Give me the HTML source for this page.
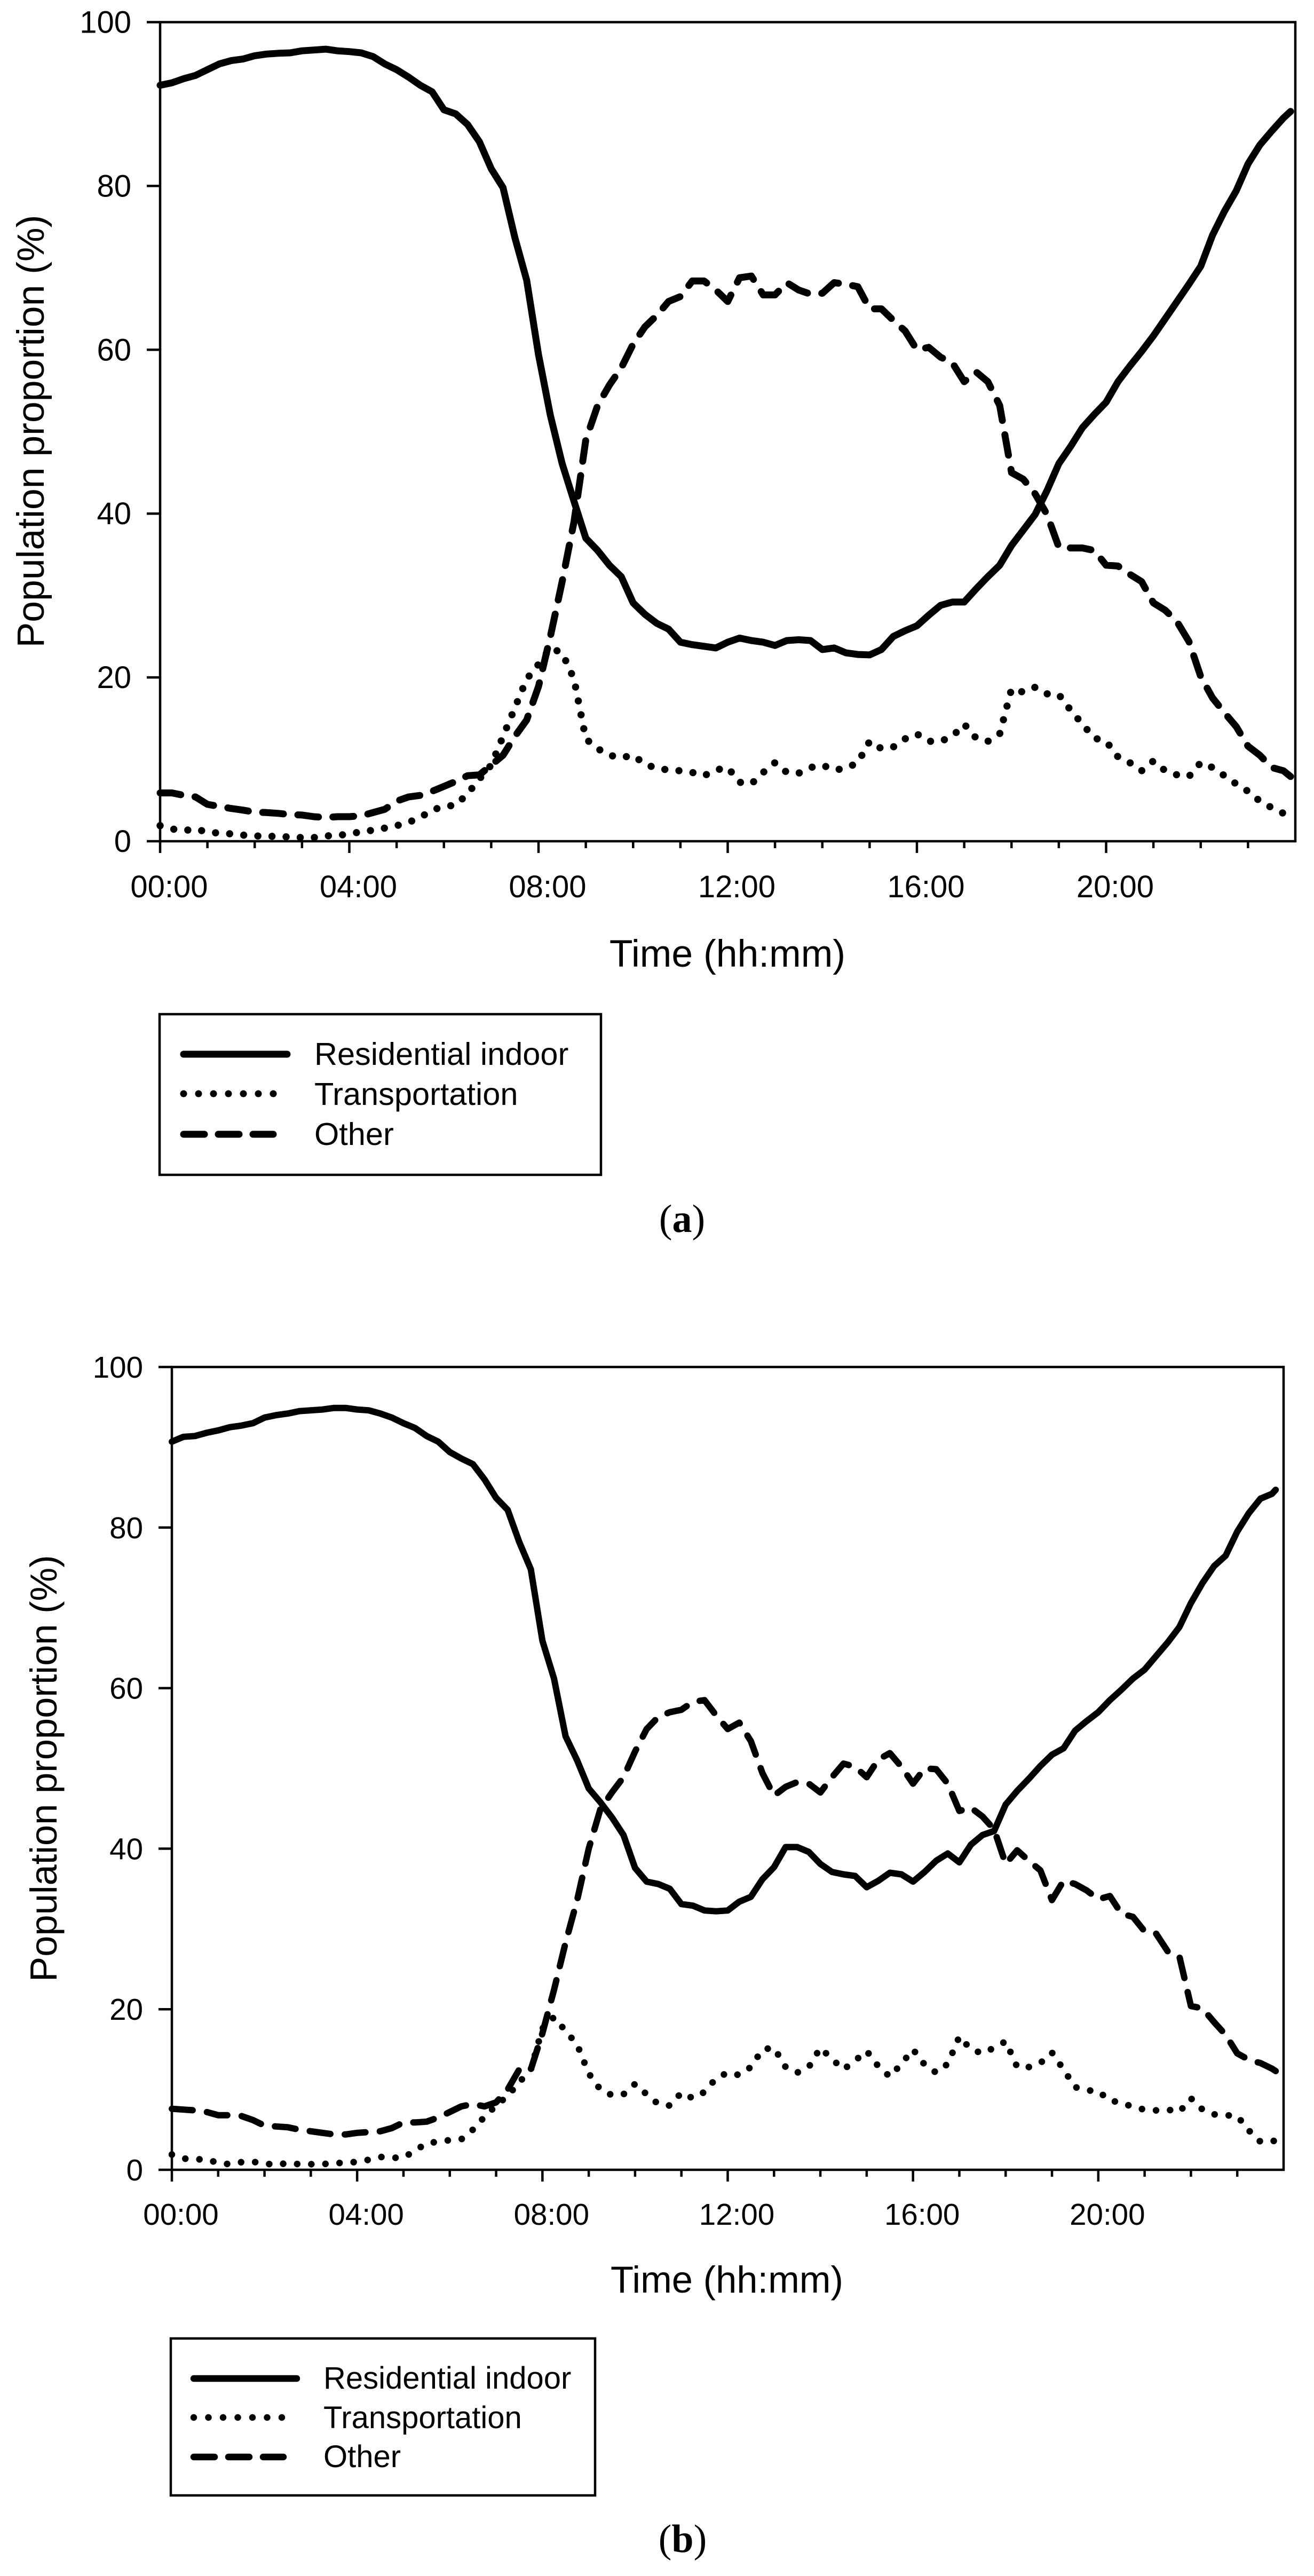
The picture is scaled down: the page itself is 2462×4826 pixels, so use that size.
<!DOCTYPE html>
<html lang="en">
<head>
<meta charset="utf-8">
<title>Population proportion by time of day</title>
<style>
html,body{margin:0;padding:0;background:#fff;}
svg{display:block;}
text{font-family:"Liberation Sans",Arial,sans-serif;fill:#000;}
.cap{font-family:"Liberation Serif",serif;}
</style>
</head>
<body>
<svg id="fig" xmlns="http://www.w3.org/2000/svg" width="2462" height="4826" viewBox="0 0 2462 4826">
<rect x="0" y="0" width="2462" height="4826" fill="#fff"/>

<g id="panel-a"></g>
<g id="panel-b"></g>

<g>
  <rect x="299" y="1900" width="827" height="301" fill="none" stroke="#000" stroke-width="4.5"/>
  <g>
    <line x1="344" y1="1975" x2="538" y2="1975" stroke="#000" stroke-width="13" stroke-linecap="round"/>
    <text x="589" y="1995" font-size="59.5">Residential indoor</text>
  </g>
  <g>
    <line x1="344" y1="2049" x2="540" y2="2049" stroke="#000" stroke-width="13" stroke-linecap="round" stroke-dasharray="0 28"/>
    <text x="589" y="2070" font-size="59.5">Transportation</text>
  </g>
  <g>
    <line x1="344" y1="2125" x2="512" y2="2125" stroke="#000" stroke-width="13" stroke-linecap="round" stroke-dasharray="39 26"/>
    <text x="589" y="2145" font-size="59.5">Other</text>
  </g>
</g>
<text class="cap" x="1278" y="2308" font-size="74" text-anchor="middle">(<tspan font-weight="bold">a</tspan>)</text>

<g>
  <rect x="320" y="4381" width="795" height="294" fill="none" stroke="#000" stroke-width="4.5"/>
  <g>
    <line x1="363" y1="4456" x2="556" y2="4456" stroke="#000" stroke-width="12.5" stroke-linecap="round"/>
    <text x="606" y="4475" font-size="58">Residential indoor</text>
  </g>
  <g>
    <line x1="363" y1="4529" x2="555" y2="4529" stroke="#000" stroke-width="12.5" stroke-linecap="round" stroke-dasharray="0 27.5"/>
    <text x="606" y="4549" font-size="58">Transportation</text>
  </g>
  <g>
    <line x1="363" y1="4603" x2="531" y2="4603" stroke="#000" stroke-width="12.5" stroke-linecap="round" stroke-dasharray="39 26"/>
    <text x="606" y="4622" font-size="58">Other</text>
  </g>
</g>
<text class="cap" x="1279" y="4781" font-size="74" text-anchor="middle">(<tspan font-weight="bold">b</tspan>)</text>
</svg>

<script>
const hoursGrid = [
0,0.25,0.5,0.75,1,1.25,1.5,1.75,2,2.25,2.5,2.75,3,3.25,3.5,3.75,
4,4.25,4.5,4.75,5,5.25,5.5,5.75,6,6.25,6.5,6.75,7,7.25,7.5,7.75,
8,8.25,8.5,8.75,9,9.25,9.5,9.75,10,10.25,10.5,10.75,11,11.25,11.5,11.75,
12,12.25,12.5,12.75,13,13.25,13.5,13.75,14,14.25,14.5,14.75,15,15.25,15.5,15.75,
16,16.25,16.5,16.75,17,17.25,17.5,17.75,18,18.25,18.5,18.75,19,19.25,19.5,19.75,
20,20.25,20.5,20.75,21,21.25,21.5,21.75,22,22.25,22.5,22.75,23,23.25,23.5,23.75];
const endHourA = 23.9;
const endHourB = 23.83;
const yTickValues = [0,20,40,60,80,100];
const xMajorHours = [0,4,8,12,16,20];
const xMajorLabels = ["00:00","04:00","08:00","12:00","16:00","20:00"];
const xMinorHours = [1,2,3,5,6,7,9,10,11,13,14,15,17,18,19,21,22,23];

const residentialA = [
92.3,92.6,93.1,93.5, 94.2,94.9,95.3,95.5, 95.9,96.1,96.2,96.25, 96.5,96.6,96.7,96.5,
96.4,96.25,95.8,94.9, 94.2,93.3,92.3,91.5, 89.3,88.8,87.5,85.4, 82.1,79.8,73.7,68.5,
59.4,52,46.1,41.5, 37,35.5,33.7,32.3, 29.1,27.7,26.6,25.9, 24.3,24,23.8,23.6,
24.3,24.8,24.5,24.3, 23.9,24.5,24.6,24.5, 23.4,23.6,23,22.8, 22.75,23.4,25,25.7,
26.3,27.6,28.8,29.2, 29.2,30.8,32.3,33.7, 36.1,38,39.9,42.8, 46.1,48.2,50.5,52.1,
53.6,56.1,58,59.8, 61.7,63.8,65.9,68, 70.2,74,76.9,79.4, 82.7,85,86.7,88.3, 89.1];
const transportationA = [
1.9,1.5,1.3,1.5, 1.1,1,0.9,0.75, 0.65,0.6,0.6,0.5, 0.45,0.45,0.65,0.7,
0.9,1.15,1.35,1.6, 1.9,2.3,2.9,3.8, 4.25,4.4,5.8,7.6, 9.3,12.8,16.3,19.8,
21.6,23.6,23,19.8, 12.5,11.3,10.5,10.2, 10.5,9.4,8.9,8.7, 8.6,8.4,8,8.7,
9,7.2,7,8.4, 9.6,8.4,8.3,9, 9.3,8.7,8.9,9.6, 12.2,11.3,11.5,12.5,
13.1,12.2,12.2,12.8, 14.3,12.6,12.2,13.1, 18.6,18.2,18.8,18, 17.9,16,14.3,12.6,
12.2,10.3,9.6,8.6, 9.8,8.6,8.1,7.9, 9.6,9,8,7, 6.1,4.9,4.1,3.4, 3.2];
const otherA = [
5.9,5.9,5.6,5.4, 4.5,4.25,4,3.8, 3.55,3.5,3.4,3.25, 3.2,3,2.9,3,
3,3.1,3.5,3.9, 4.9,5.4,5.6,6.1, 6.7,7.3,8,8.1, 9.3,10.5,12.8,14.8,
18.9,25,31.7,39, 49,53.2,55.7,57.8, 60.7,62.8,64.2,65.9, 66.5,68.4,68.4,67.3,
65.9,68.8,69,66.7, 66.7,68.2,67.3,66.8, 66.9,68.2,68,67.7, 65,65,63.6,62.3,
60,60.3,59.1,58.4, 56.1,57.3,56.1,53.2, 45,44.2,42.4,39.9, 35.9,35.8,35.8,35.5,
33.7,33.6,32.6,31.7, 29.1,28.2,26.8,24.4, 20.1,17.5,15.7,14, 11.6,10.5,9,8.6, 7.9];

const residentialB = [
90.7,91.3,91.4,91.8, 92.1,92.5,92.7,93, 93.7,94,94.2,94.5, 94.6,94.7,94.9,94.9,
94.7,94.6,94.2,93.7, 93,92.4,91.4,90.7, 89.4,88.6,87.9,86, 83.7,82.2,78.2,74.8,
65.9,61.2,54,51, 47.5,45.8,43.9,41.7, 37.6,35.9,35.6,35, 33.1,32.9,32.3,32.2,
32.3,33.4,34,36.2, 37.7,40.2,40.2,39.6, 38.1,37.1,36.8,36.6, 35.2,36,37,36.8,
35.9,37.1,38.5,39.4, 38.3,40.5,41.7,42.2, 45.5,47.2,48.7,50.3, 51.7,52.5,54.7,55.9,
57,58.5,59.8,61.2, 62.3,64,65.7,67.6, 70.6,73.1,75.2,76.5, 79.5,81.8,83.6,84.2, 84.7];
const transportationB = [
1.9,1.4,1.3,1.3, 0.85,0.7,0.95,1, 0.8,0.6,0.85,0.7, 0.7,0.7,0.85,0.85,
1,1.25,1.6,1.5, 1.5,2.4,3.3,3.5, 3.7,3.8,5,6.6, 8,9.2,10.9,12.5,
17.6,19,17.3,15.6, 12,10,9.3,9.4, 10.7,9.4,8.2,8, 9.6,8.9,9.7,11.4,
12.1,11.8,12.8,15, 15.2,12.8,12.1,12.8, 15.2,13.8,12.5,13.6, 14.8,12.9,11.6,13.2,
15,13.1,12.1,13.2, 16.6,15,14.5,15.2, 16,12.8,12.8,13.3, 14.6,12.5,10.3,9.9,
9.8,8.6,8.4,7.8, 7.5,7.4,7.5,7.2, 8.9,7.5,6.9,6.8, 6.7,4.9,3.5,3.6, 3.6];
const otherB = [
7.6,7.5,7.4,7.2, 6.8,6.8,6.7,6.2, 5.5,5.4,5.3,5, 4.8,4.6,4.4,4.4,
4.6,4.7,4.8,5.2, 5.9,5.9,6,6.5, 7.2,7.9,8.2,7.9, 8.4,10,12.5,12.5,
17,22.4,28.3,33.6, 40,44.9,47,48.9, 52.1,54.9,56.4,57, 57.3,58.3,58.5,56.6,
54.9,55.7,53.4,49.4, 46.6,47.7,48.3,48.1, 47,48.9,50.6,50.2, 48.9,51.1,51.9,50.2,
48.1,50,49.9,48.1, 44.7,45.1,44,42.4, 38.1,39.8,38.5,37.3, 33.6,36,35.6,34.8,
33.7,34.1,31.9,31.5, 29.7,29.4,27.2,26.6, 20.4,20.1,18.4,16.8, 14.5,13.7,13.3,12.6, 12.3];

const NS = "http://www.w3.org/2000/svg";

function make(parent, tag, attrs, txt) {
  const el = document.createElementNS(NS, tag);
  for (const k in attrs) el.setAttribute(k, attrs[k]);
  if (txt !== undefined) el.textContent = txt;
  parent.appendChild(el);
  return el;
}

function drawPanel(root, cfg) {
  const xScale = h => cfg.left + (h / 24) * (cfg.right - cfg.left);
  const yScale = v => cfg.bottom - (v / 100) * (cfg.bottom - cfg.top);
  const hrs = hoursGrid.concat([cfg.endHour]);

  const frame = make(root, "rect", {x: cfg.left, y: cfg.top, width: cfg.right - cfg.left, height: cfg.bottom - cfg.top, fill: "none", stroke: "#000", "stroke-width": 4.5});
  
  

  yTickValues.forEach(v => {
    const t = make(root, "line", {x1: cfg.left - 25, x2: cfg.left, y1: yScale(v), y2: yScale(v), stroke: "#000", "stroke-width": 4.5});
    
    
    const l = make(root, "text", {x: cfg.yLabelRight, y: yScale(v) + 20, "font-size": cfg.tickFont, "text-anchor": "end"}, String(v));
    
    
  });
  xMajorHours.forEach((h, i) => {
    const t = make(root, "line", {x1: xScale(h), x2: xScale(h), y1: cfg.bottom, y2: cfg.bottom + 22, stroke: "#000", "stroke-width": 4.5});
    
    
    const l = make(root, "text", {x: xScale(h) + 17, y: cfg.xLabelBase, "font-size": cfg.tickFont, "text-anchor": "middle"}, xMajorLabels[i]);
    
    
  });
  xMinorHours.forEach(h => {
    const t = make(root, "line", {x1: xScale(h), x2: xScale(h), y1: cfg.bottom, y2: cfg.bottom + 13, stroke: "#000", "stroke-width": 4.5});
    
    
  });

  const xt = make(root, "text", {x: cfg.xTitleX, y: cfg.xTitleY, "font-size": cfg.titleFont, "text-anchor": "middle"}, "Time (hh:mm)");
  
  
  const yt = make(root, "text", {x: 0, y: 0, "font-size": cfg.titleFont, "text-anchor": "middle", transform: "translate(" + cfg.yTitleX + "," + cfg.yTitleY + ") rotate(-90)"}, "Population proportion (%)");
  
  

  const pathFor = vals => vals.map((v, i) => (i ? "L" : "M") + xScale(hrs[i]).toFixed(1) + " " + yScale(v).toFixed(1)).join(" ");

  const solid = make(root, "path", {d: pathFor(cfg.residential), fill: "none", stroke: "#000", "stroke-width": cfg.lineW, "stroke-linejoin": "round", "stroke-linecap": "round"});
  
  

  const dotted = make(root, "path", {d: pathFor(cfg.transportation), fill: "none", stroke: "#000", "stroke-width": cfg.lineW + 0.5, "stroke-linejoin": "round", "stroke-linecap": "round", "stroke-dasharray": "0 26.5"});
  
  

  const dashed = make(root, "path", {d: pathFor(cfg.other), fill: "none", stroke: "#000", "stroke-width": cfg.lineW, "stroke-linejoin": "round", "stroke-linecap": "round", "stroke-dasharray": "39 27"});
  
  
}

drawPanel(document.getElementById("panel-a"), {
  left: 300, right: 2427, top: 41.5, bottom: 1576, endHour: endHourA,
  yLabelRight: 246, xLabelBase: 1681, tickFont: 58, titleFont: 71.5,
  xTitleX: 1363, xTitleY: 1811, yTitleX: 82, yTitleY: 808, lineW: 13,
  residential: residentialA, transportation: transportationA, other: otherA
});
drawPanel(document.getElementById("panel-b"), {
  left: 322, right: 2405, top: 2561, bottom: 4065, endHour: endHourB,
  yLabelRight: 268, xLabelBase: 4168, tickFont: 56.5, titleFont: 70.5,
  xTitleX: 1362, xTitleY: 4295, yTitleX: 106, yTitleY: 3313, lineW: 12,
  residential: residentialB, transportation: transportationB, other: otherB
});
</script>
</body>
</html>
